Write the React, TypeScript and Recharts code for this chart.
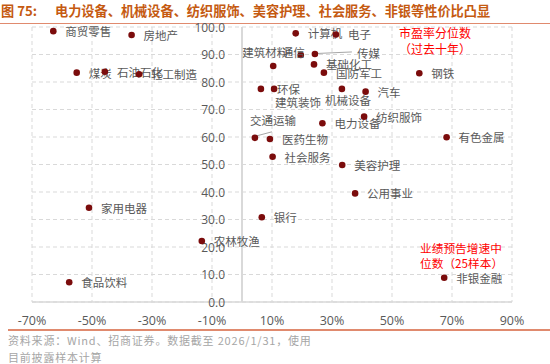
import {
  CartesianGrid,
  ReferenceLine,
  Scatter,
  ScatterChart,
  XAxis,
  YAxis,
} from "recharts";

// 申万一级行业
const industries = [
  "商贸零售", "房地产", "煤炭", "石油石化", "轻工制造", "计算机", "电子", "建筑材料",
  "通信", "传媒", "基础化工", "国防军工", "环保", "建筑装饰", "机械设备", "汽车",
  "交通运输", "医药生物", "电力设备", "纺织服饰", "有色金属", "社会服务", "美容护理",
  "公用事业", "银行", "钢铁", "家用电器", "农林牧渔", "食品饮料", "非银金融",
];
// 业绩预告增速中位数 (%)
const growth = [
  -62.9, -36.8, -55.1, -45.7, -34.3, 17.9, 31.3, 10.4,
  19.6, 24.3, 24.0, 27.3, 6.3, 10.7, 33.3, 41.2,
  4.3, 9.3, 26.8, 40.7, 68.2, 10.2, 33.4,
  37.7, 6.6, 59.1, -51.0, -13.4, -57.6, 67.4,
];
// 市盈率分位数（过去十年）
const pePct = [
  98.5, 97.1, 83.4, 83.7, 82.8, 97.7, 97.3, 85.8,
  89.8, 90.2, 86.4, 83.4, 77.5, 77.5, 77.5, 76.5,
  59.7, 59.3, 65.0, 67.4, 59.9, 52.8, 49.8,
  39.5, 30.8, 83.2, 34.3, 22.2, 7.2, 8.8,
];
const xTicks = [-70, -50, -30, -10, 10, 30, 50, 70, 90];
const yTicks = [0, 10, 20, 30, 40, 50, 60, 70, 80, 90, 100];

const points = industries.map((name, i) => ({ name, x: growth[i], y: pePct[i] }));
const yTickPoints = yTicks.map((v) => ({ x: 0, y: v }));

const DOT = "#7b0c0c";
const GRID = "#d9d9d9";
const MUTED = "#595959";
const FONT = "'Noto Sans CJK SC', 'Open Sans', sans-serif";

// label nudges [dx to text start, dy], default sits to the right of the dot
const NUDGE: Record<string, [number, number]> = {
  建筑材料: [-31, -14],
  通信: [-19, -3],
  传媒: [42, -1],
  环保: [16, 0],
  建筑装饰: [1, 13],
  机械设备: [-17, 11],
  交通运输: [-5, -18],
};

function DotWithLabel(props: any) {
  const { cx, cy, payload } = props;
  const [dx, dy] = NUDGE[payload.name] ?? [12, 0];
  return (
    <g>
      {payload.name === "传媒" && (
        <line x1={cx + 3} y1={cy - 0.5} x2={cx + dx - 5} y2={cy + dy - 1} stroke="#a6a6a6" strokeWidth={1} />
      )}
      {payload.name === "交通运输" && (
        <line x1={cx + 2} y1={cy - 2} x2={cx + 17} y2={cy - 6} stroke="#a6a6a6" strokeWidth={1} />
      )}
      <circle cx={cx} cy={cy} r={3.3} fill={DOT} />
      <text
        x={cx + dx}
        y={cy + dy}
        dominantBaseline="central"
        fontSize={11.5}
        fill={MUTED}
        fontFamily={FONT}
      >
        {payload.name}
      </text>
    </g>
  );
}

function YTickLabel(props: any) {
  const { cx, cy, payload } = props;
  return (
    <text
      x={cx - 17}
      y={cy}
      textAnchor="end"
      dominantBaseline="central"
      fontSize={12}
      fill={MUTED}
      fontFamily="'Open Sans', sans-serif"
    >
      {payload.y.toFixed(1)}
    </text>
  );
}

export default function App() {
  return (
    <div
      style={{
        position: "absolute",
        left: 0,
        top: 0,
        width: 550,
        height: 364,
        background: "#fff",
        fontFamily: FONT,
        overflow: "hidden",
      }}
    >
      <div
        style={{
          position: "absolute",
          left: 1,
          top: 2,
          fontSize: 13.2,
          fontWeight: 700,
          color: "#c55a11",
          whiteSpace: "nowrap",
          lineHeight: "17px",
        }}
      >
        <span style={{ display: "inline-block", width: 54 }}>图 75:</span>
        电力设备、机械设备、纺织服饰、美容护理、社会服务、非银等性价比凸显
      </div>
      <div style={{ position: "absolute", left: 0, top: 23, width: 550, height: 1, background: "#e08a6e" }} />

      <ScatterChart width={550} height={364} margin={{ top: 27, right: 38, bottom: 32, left: 32 }}>
        <CartesianGrid stroke={GRID} strokeDasharray="4 3" />
        <XAxis
          type="number"
          dataKey="x"
          domain={[-70, 90]}
          ticks={xTicks}
          interval={0}
          tickFormatter={(v: number) => `${v}%`}
          axisLine={{ stroke: GRID, strokeWidth: 1.5 }}
          tickLine={false}
          tickMargin={8}
          height={30}
          tick={{ fill: MUTED, fontSize: 12.5, fontFamily: "'Open Sans', sans-serif" }}
        />
        <YAxis type="number" dataKey="y" domain={[0, 100]} ticks={yTicks} hide />
        <ReferenceLine x={0} stroke={GRID} strokeWidth={2} />
        <Scatter data={yTickPoints} shape={YTickLabel} isAnimationActive={false} />
        <Scatter data={points} shape={DotWithLabel} isAnimationActive={false} />
      </ScatterChart>

      <div style={{ position: "absolute", left: 399, top: 25, fontSize: 12, color: "#ff0000", lineHeight: "15.5px", whiteSpace: "nowrap" }}>
        市盈率分位数
        <br />
        （过去十年）
      </div>
      <div style={{ position: "absolute", left: 420, top: 240, fontSize: 11.7, color: "#ff0000", lineHeight: "15px", whiteSpace: "nowrap" }}>
        业绩预告增速中
        <br />
        位数（25样本）
      </div>

      <div style={{ position: "absolute", left: 8, top: 329, width: 542, height: 1.5, background: "#e08a6e" }} />
      <div
        style={{
          position: "absolute",
          left: 8,
          top: 332,
          fontSize: 11,
          letterSpacing: 0.8,
          color: "#a6a6a6",
          lineHeight: "16.5px",
          whiteSpace: "nowrap",
        }}
      >
        资料来源：Wind、招商证券。数据截至 2026/1/31，使用
        <br />
        目前披露样本计算
      </div>
    </div>
  );
}
